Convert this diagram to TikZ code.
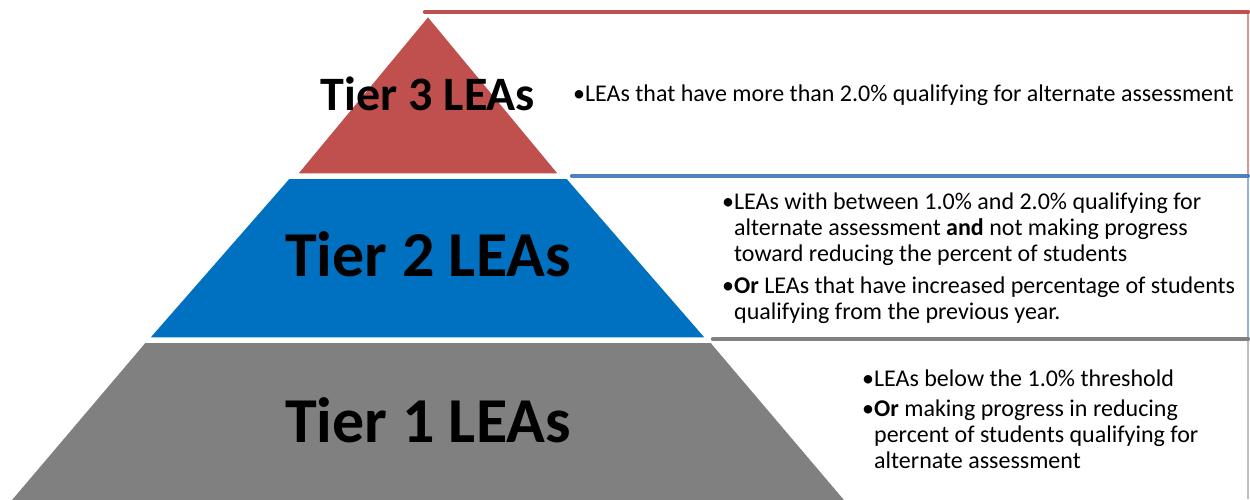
\documentclass[tikz,border=0pt]{standalone}
\usepackage{fontspec}
\setmainfont{Carlito}
\usepackage{xcolor}
\usetikzlibrary{positioning}

\definecolor{tierred}{HTML}{C0504D}
\definecolor{tierblue}{HTML}{0070C0}
\definecolor{tiergray}{HTML}{808080}
\definecolor{lineblue}{HTML}{4F81BD}
\definecolor{edgered}{HTML}{D99694}
\definecolor{edgeblue}{HTML}{95B3D7}
\definecolor{edgegray}{HTML}{BFBFBF}

\begin{document}
\begin{tikzpicture}[x=1pt, y=-1pt,
    tier/.style={draw=white, line width=1.5pt, line join=miter},
    topline/.style={line width=4.5pt, line cap=round},
    sideline/.style={line width=1.2pt},
    tierlabel/.style={font=\bfseries, text=black, anchor=center, inner sep=0pt},
    desc/.style={font=\fontsize{24}{26}\selectfont, anchor=west, align=left, inner sep=0pt},
]
\useasboundingbox (0,0) rectangle (1250,499);

% Side boxes
\draw[sideline, edgered] (1248,12) -- (1248,176);
\draw[sideline, edgeblue] (1248,176) -- (1248,339);
\draw[sideline, edgegray] (1248,339) -- (1248,499);
\draw[topline, tierred] (425,12) -- (1248,12);
\draw[topline, lineblue] (572,176) -- (1248,176);
\draw[topline, tiergray] (713,339) -- (1248,339);

% Pyramid
\path[tier, fill=tierred] (428,16) -- (559,174) -- (297,174) -- cycle;
\path[tier, fill=tierblue] (289,178) -- (567,178) -- (706,338) -- (149,338) -- cycle;
\path[tier, fill=tiergray] (145,342) -- (711,342) -- (846,501) -- (10,501) -- cycle;

% Tier labels
\node[tierlabel, font=\fontsize{48}{52}\bfseries] (t3) at (428,94) {Tier 3 LEAs};
\node[tierlabel, font=\fontsize{64}{70}\bfseries] (t2) at (428,254) {Tier 2 LEAs};
\node[tierlabel, font=\fontsize{64}{70}\bfseries] (t1) at (428,420) {Tier 1 LEAs};

% Descriptions
\node[desc] (d3) at (573,96) {%
  \begin{tabular}{@{}l@{}l@{}}
  •&LEAs that have more than 2.0\% qualifying for alternate assessment
  \end{tabular}};
\node[desc] (d2) at (722,259) {%
  \begin{tabular}{@{}l@{}l@{}}
  •&LEAs with between 1.0\% and 2.0\% qualifying for\\
   &alternate assessment \textbf{and} not making progress\\
   &toward reducing the percent of students\\[6pt]
  •&\textbf{Or} LEAs that have increased percentage of students\\
   &qualifying from the previous year.
  \end{tabular}};
\node[desc] (d1) at (862,422) {%
  \begin{tabular}{@{}l@{}l@{}}
  •&LEAs below the 1.0\% threshold\\[4pt]
  •&\textbf{Or} making progress in reducing\\
   &percent of students qualifying for\\
   &alternate assessment
  \end{tabular}};

\end{tikzpicture}
\end{document}
